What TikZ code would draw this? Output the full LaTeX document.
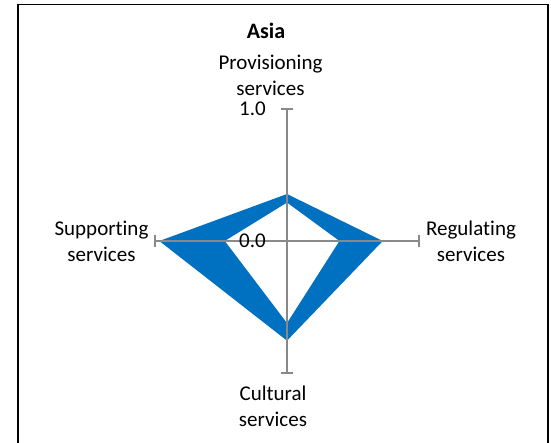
\documentclass[tikz,border=0pt]{standalone}
\usepackage{fontspec}
\setmainfont{Carlito}[Ligatures=NoCommon]
\definecolor{radarblue}{HTML}{0070C0}
\definecolor{axisgrey}{HTML}{898989}
\tikzset{
	axislabel/.style={align=center, inner sep=0pt, font=\fontsize{21}{26}\selectfont},
	ticklabel/.style={inner sep=0pt, anchor=base east, font=\fontsize{21}{26}\selectfont},
	axisline/.style={axisgrey, line width=2pt}
}

\begin{document}
\begin{tikzpicture}[x=132pt, y=132pt]
\useasboundingbox (-287pt, -202pt) rectangle (264pt, 241pt);
\clip (-287pt, -202pt) rectangle (264pt, 241pt);
\draw[line width=1.5pt] (-269pt, -220pt) rectangle (261pt, 236.5pt);

% outer series, clockwise from the top
\fill[radarblue] (0, 0.356) -- (0.725, 0) -- (0, -0.755) -- (-0.967, 0) -- cycle;
% inner series
\fill[white] (0, 0.29) -- (0.396, 0) -- (0, -0.62) -- (-0.47, 0) -- cycle;

\foreach \a in {0, 90, 180, 270}
	\draw[axisline, rotate=\a] (0, 0) -- (1, 0) (1, -0.048) -- (1, 0.048);

\node[font=\bfseries\fontsize{22}{26}\selectfont, inner sep=0pt, anchor=base] (title) at (-21pt, 202pt) {Asia};
\node[axislabel] (prov) at (-16.5pt, 165.5pt) {Provisioning\\services};
\node[axislabel] (regu) at (184pt, 0pt) {Regulating\\services};
\node[axislabel] (cult) at (-14pt, -164.8pt) {Cultural\\services};
\node[axislabel] (supp) at (-185.5pt, -0.8pt) {Supporting\\services};
\node[ticklabel] (max) at (-21pt, 125pt) {1.0};
\node[ticklabel] (min) at (-21pt, -7pt) {0.0};
\end{tikzpicture}
\end{document}
